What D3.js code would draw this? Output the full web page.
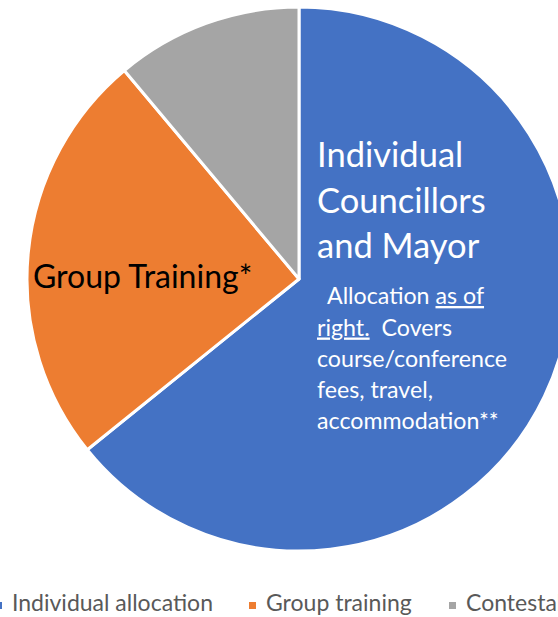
<!DOCTYPE html>
<html lang="en">
<head>
    <meta charset="UTF-8">
    <title>Councillor training allocation</title>
    <script src="https://d3js.org/d3.v7.min.js"></script>
    <style>
        body {
            margin: 0;
            padding: 0;
            background: #fff;
            overflow: hidden;
        }
        svg {
            display: block;
            font-family: Lato, "Open Sans", sans-serif;
        }
    </style>
</head>
<body>
    <script>
        // Chart data
        var categories = ["Individual allocation", "Group training", "Contestable fund"];
        var shares = [64.2, 24.7, 11.1];
        var colors = ["#4472C4", "#ED7D31", "#A5A5A5"];

        var width = 558;
        var height = 617;
        var cx = 299, cy = 279, radius = 272;

        var svg = d3.select("body").append("svg")
            .attr("width", width)
            .attr("height", height);

        var data = categories.map(function(c, i) {
            return { name: c, value: shares[i], color: colors[i] };
        });

        var pie = d3.pie()
            .sort(null)
            .value(function(d) { return d.value; });

        var arc = d3.arc()
            .innerRadius(0)
            .outerRadius(radius);

        var g = svg.append("g")
            .attr("transform", "translate(" + cx + "," + cy + ")");

        g.selectAll("path")
            .data(pie(data))
            .join("path")
            .attr("d", arc)
            .attr("fill", function(d) { return d.data.color; })
            .attr("stroke", "#fff")
            .attr("stroke-width", 3)
            .attr("stroke-linejoin", "round");

        // Label inside the blue slice
        var big = svg.append("text")
            .attr("fill", "#fff")
            .attr("font-size", 34.5);
        ["Individual", "Councillors", "and Mayor"].forEach(function(t, i) {
            big.append("tspan").attr("x", 317).attr("y", 167 + i * 45.5).text(t);
        });

        var small = svg.append("text")
            .attr("fill", "#fff")
            .attr("font-size", 23.2);
        var l1 = small.append("tspan").attr("x", 327).attr("y", 304);
        l1.append("tspan").text("Allocation ");
        l1.append("tspan").attr("text-decoration", "underline").text("as of");
        var l2 = small.append("tspan").attr("x", 317).attr("y", 335.5);
        l2.append("tspan").attr("text-decoration", "underline").text("right.");
        l2.append("tspan").attr("dx", 6).text(" Covers");
        ["course/conference", "fees, travel,", "accommodation**"].forEach(function(t, i) {
            small.append("tspan").attr("x", 317).attr("y", 366.5 + i * 31).text(t);
        });

        // Label inside the orange slice
        svg.append("text")
            .attr("x", 33)
            .attr("y", 288)
            .attr("fill", "#000")
            .attr("font-size", 32)
            .text("Group Training*");

        // Legend
        var legendX = [-5, 249, 449];
        var legend = svg.selectAll(".legend")
            .data(data)
            .join("g")
            .attr("class", "legend")
            .attr("transform", function(d, i) { return "translate(" + legendX[i] + ",602)"; });

        legend.append("rect")
            .attr("width", 7)
            .attr("height", 7)
            .attr("fill", function(d) { return d.color; });

        legend.append("text")
            .attr("x", 17)
            .attr("y", 9)
            .attr("fill", "#595959")
            .attr("font-size", 23)
            .text(function(d) { return d.name; });
    </script>
</body>
</html>
